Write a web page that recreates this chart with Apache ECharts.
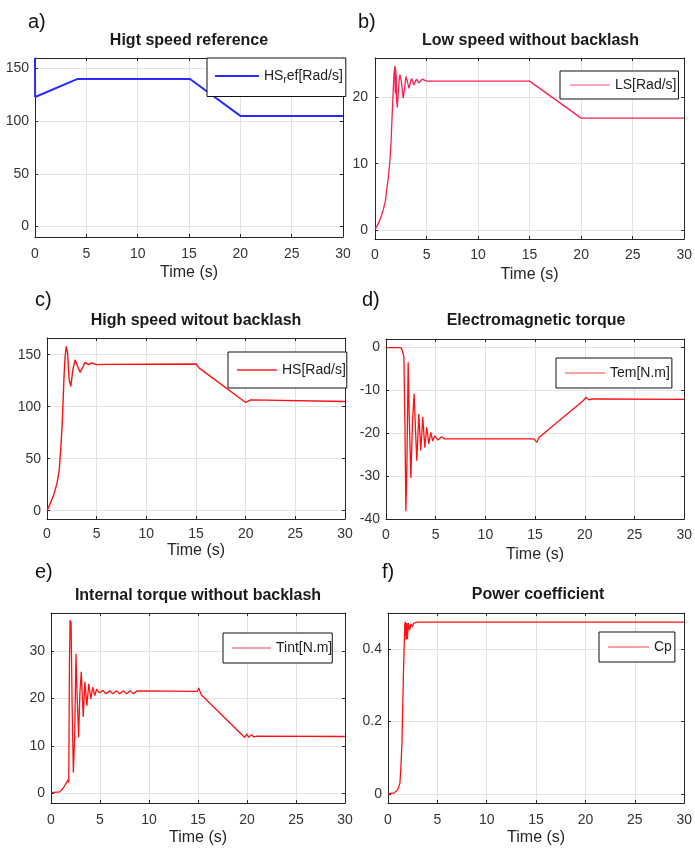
<!DOCTYPE html>
<html><head><meta charset="utf-8">
<script src="https://cdn.jsdelivr.net/npm/echarts@6/dist/echarts.min.js"></script>
<style>html,body{margin:0;padding:0;background:#fff}#c{width:695px;height:850px}</style>
</head><body><div id="c"></div>
<script>
// ---- tick labels ----
const xTicks = [0, 5, 10, 15, 20, 25, 30];
const yTicksA = [0, 50, 100, 150];
const yTicksB = [0, 10, 20];
const yTicksC = [0, 50, 100, 150];
const yTicksD = [-40, -30, -20, -10, 0];
const yTicksE = [0, 10, 20, 30];
const yTicksF = [0, 0.2, 0.4];

// ---- a) High speed reference ----
const timeA = [0, 0.01, 4.1, 15.1, 20.0, 30];
const hsRef = [160, 123, 140, 140, 105, 105];

// ---- b) Low speed without backlash ----
const timeB = [0, 0.25, 0.48, 0.8, 1.0, 1.13, 1.29, 1.45, 1.55, 1.65, 1.74, 1.84, 1.9, 1.94, 1.96, 1.98, 2.0, 2.02, 2.04, 2.06, 2.09, 2.16, 2.25, 2.35, 2.42, 2.55, 2.74, 2.88, 3.0, 3.15, 3.29, 3.42, 3.55, 3.66, 3.77, 3.9, 4.03, 4.15, 4.26, 4.42, 4.58, 4.75, 5.0, 15.0, 20.0, 30];
const lowSpeed = [0, 0.7, 1.5, 3.0, 4.3, 6.0, 7.8, 10.5, 13.0, 16.8, 20.1, 23.6, 24.3, 24.8, 20.8, 24.6, 20.6, 24.2, 20.5, 23.5, 19.8, 18.5, 20.5, 22.8, 23.5, 22.5, 19.9, 21.5, 23.2, 22.4, 21.4, 22.2, 22.9, 22.5, 21.9, 22.4, 22.8, 22.5, 22.2, 22.5, 22.8, 22.5, 22.5, 22.5, 16.9, 16.9];

// ---- c) High speed without backlash ----
const timeC = [0, 0.33, 0.67, 1.0, 1.23, 1.37, 1.5, 1.6, 1.7, 1.8, 1.93, 2.07, 2.23, 2.4, 2.6, 2.83, 3.07, 3.33, 3.6, 3.83, 4.17, 4.5, 5.0, 6.0, 6.1, 6.2, 15.0, 15.33, 20.0, 20.2, 20.5, 20.6, 30];
const highSpeed = [0, 7, 15, 26, 39, 58, 78, 100, 126, 145, 158, 152, 126, 119.5, 135.5, 145, 139, 133, 138, 142.6, 140.4, 142, 140.4, 140.6, 142, 141, 141, 137, 104, 103, 106.5, 105, 105];

// ---- d) Electromagnetic torque ----
const timeD = [0, 1.5, 1.63, 1.8, 1.83, 1.9, 2.0, 2.1, 2.23, 2.33, 2.5, 2.67, 2.83, 2.97, 3.1, 3.3, 3.5, 3.7, 3.9, 4.1, 4.3, 4.5, 4.7, 4.9, 5.23, 5.57, 5.9, 6.57, 14.9, 15.17, 15.4, 15.9, 19.83, 20.13, 20.4, 20.73, 21.23, 30];
const emTorque = [0, 0, -0.6, -2.2, -2.2, -17, -38.2, -28, -3.4, -15.5, -30.4, -17, -10.8, -19.4, -26.4, -15.5, -24, -16.2, -23.3, -18.6, -22.5, -19.8, -21.8, -20.6, -21.6, -20.8, -21.3, -21.3, -21.3, -22.1, -21, -20, -12.4, -11.6, -12.2, -12, -12, -12.1];

// ---- e) Internal torque without backlash ----
const timeE = [0, 0.9, 1.24, 1.58, 1.75, 1.81, 1.88, 1.95, 2.05, 2.15, 2.28, 2.42, 2.55, 2.68, 2.82, 2.95, 3.09, 3.29, 3.46, 3.66, 3.86, 4.06, 4.26, 4.46, 4.66, 4.93, 5.3, 5.6, 6.0, 6.3, 6.7, 7.0, 7.4, 7.7, 8.1, 8.4, 8.8, 9.0, 14.93, 15.07, 15.33, 19.77, 19.97, 20.2, 20.45, 20.7, 21.0, 30];
const intTorque = [0.2, 0.35, 1.1, 2.3, 2.9, 2.3, 27, 36.5, 36, 19.2, 4.4, 12.2, 29.4, 19.9, 11.8, 21.3, 25.6, 16.1, 23.5, 18.5, 23.1, 19.9, 22.4, 20.6, 22, 21.2, 21.7, 21.0, 21.6, 21.0, 21.6, 21.0, 21.6, 21.0, 21.6, 21.0, 21.6, 21.5, 21.5, 22.2, 20.8, 11.8, 12.5, 11.8, 12.4, 11.9, 12.1, 12.0];

// ---- f) Power coefficient ----
const timeF = [0, 0.65, 0.98, 1.21, 1.31, 1.41, 1.5, 1.57, 1.63, 1.7, 1.76, 1.83, 1.9, 1.96, 2.06, 2.19, 2.32, 2.45, 2.61, 2.78, 3.0, 30];
const powerCoef = [0, 0.003, 0.012, 0.03, 0.076, 0.14, 0.25, 0.34, 0.4, 0.467, 0.476, 0.426, 0.472, 0.428, 0.472, 0.453, 0.47, 0.461, 0.472, 0.467, 0.475, 0.475];

const FONT = '"Liberation Sans", Arial, Helvetica, sans-serif';
const AX = '#262626';
const GRID = '#e2e2e2';

const panels = [
  { label: 'a)', lab: [28, 12], title: 'Higt speed reference', titleTop: 33,
    grid: [35, 58, 308, 179], ymin: -10, ymax: 160, yTicks: yTicksA,
    t: timeA, v: hsRef, name: 'HSref[Rad/s]', color: '#2b2bff', width: 2,
    legend: { left: 207, top: 58, padding: [11, 3, 11, 8], itemWidth: 44, lc: '#2b2bff', lw: 2 },
    fmt: 'HS{sub|r}ef[Rad/s]', ylm: 6, xlm: 10, ng: 28 },
  { label: 'b)', lab: [358, 12], title: 'Low speed without backlash', titleTop: 33,
    grid: [375, 58, 311, 181], ymin: -1.4, ymax: 26, yTicks: yTicksB,
    t: timeB, v: lowSpeed, name: 'LS[Rad/s]', color: '#ff1f4f', width: 1.3,
    legend: { left: 560, top: 71, padding: [7, 2, 7, 10], itemWidth: 40, lc: '#ff8aa2', lw: 1.3 },
    ylm: 7, xlm: 9, ng: 28 },
  { label: 'c)', lab: [35, 290], title: 'High speed witout backlash', titleTop: 313,
    grid: [47, 338, 298, 181], ymin: -8, ymax: 166, yTicks: yTicksC,
    t: timeC, v: highSpeed, name: 'HS[Rad/s]', color: '#ff1010', width: 1.4,
    legend: { left: 228, top: 352, padding: [11, 1, 11, 9], itemWidth: 40, lc: '#ff2020', lw: 1.4 },
    ylm: 6, xlm: 8, ng: 24 },
  { label: 'd)', lab: [362, 290], title: 'Electromagnetic torque', titleTop: 313,
    grid: [386, 339, 300, 180], ymin: -40, ymax: 2, yTicks: yTicksD,
    t: timeD, v: emTorque, name: 'Tem[N.m]', color: '#ff1010', width: 1.3,
    legend: { left: 556, top: 358, padding: [8, 2, 8, 9], itemWidth: 40, lc: '#ff8080', lw: 1.3 },
    ylm: 6, xlm: 9, ng: 28 },
  { label: 'e)', lab: [35, 562], title: 'Internal torque without backlash', titleTop: 588,
    grid: [51, 613, 294, 190], ymin: -2, ymax: 38, yTicks: yTicksE,
    t: timeE, v: intTorque, name: 'Tint[N.m]', color: '#ff1010', width: 1.3,
    legend: { left: 223, top: 633, padding: [8, 0, 8, 9], itemWidth: 39, lc: '#ff8080', lw: 1.3 },
    ylm: 6, xlm: 10, ng: 27 },
  { label: 'f)', lab: [382, 562], title: 'Power coefficient', titleTop: 587,
    grid: [388, 613, 300, 190], ymin: -0.025, ymax: 0.5, yTicks: yTicksF,
    t: timeF, v: powerCoef, name: 'Cp', color: '#ff1010', width: 1.3,
    legend: { left: 599, top: 632, padding: [8, 3, 8, 9], itemWidth: 41, lc: '#ff8080', lw: 1.3 },
    ylm: 6, xlm: 10, ng: 27 }
];

const option = { animation: false, backgroundColor: '#fff', title: [], grid: [], xAxis: [], yAxis: [], series: [], legend: [] };

panels.forEach((p, i) => {
  const [gl, gt, gw, gh] = p.grid;
  option.grid.push({ left: gl, top: gt, width: gw, height: gh, containLabel: false });
  option.title.push({ text: p.title, left: gl + gw / 2, top: p.titleTop, textAlign: 'center', padding: 0,
    textStyle: { fontFamily: FONT, fontSize: 16, fontWeight: 'bold', color: '#1a1a1a' } });
  option.title.push({ text: p.label, left: p.lab[0], top: p.lab[1], padding: 0,
    textStyle: { fontFamily: FONT, fontSize: 20, fontWeight: 'normal', color: '#111' } });

  const lineStyle = { color: AX, width: 1 };
  option.xAxis.push({ type: 'value', gridIndex: i, position: 'bottom', min: 0, max: 30, interval: 5,
    name: 'Time (s)', nameLocation: 'middle', nameGap: p.ng,
    nameTextStyle: { fontFamily: FONT, fontSize: 16, color: '#262626' },
    axisLine: { show: true, onZero: false, lineStyle },
    axisTick: { show: true, inside: true, length: 3, lineStyle },
    axisLabel: { show: true, margin: p.xlm, fontFamily: FONT, fontSize: 14, color: '#333',
      customValues: xTicks },
    splitLine: { show: true, lineStyle: { color: GRID, width: 1 } } });
  option.xAxis.push({ type: 'value', gridIndex: i, position: 'top', min: 0, max: 30, interval: 5,
    axisLine: { show: true, onZero: false, lineStyle },
    axisTick: { show: true, inside: true, length: 3, lineStyle },
    axisLabel: { show: false }, splitLine: { show: false } });
  option.yAxis.push({ type: 'value', gridIndex: i, position: 'left', min: p.ymin, max: p.ymax,
    axisLine: { show: true, onZero: false, lineStyle },
    axisTick: { show: true, inside: true, length: 3, lineStyle, customValues: p.yTicks },
    axisLabel: { show: true, margin: p.ylm, fontFamily: FONT, fontSize: 14, color: '#333', customValues: p.yTicks },
    splitLine: { show: true, lineStyle: { color: GRID, width: 1 } } });
  option.yAxis.push({ type: 'value', gridIndex: i, position: 'right', min: p.ymin, max: p.ymax,
    axisLine: { show: true, onZero: false, lineStyle },
    axisTick: { show: true, inside: true, length: 3, lineStyle, customValues: p.yTicks },
    axisLabel: { show: false, customValues: p.yTicks }, splitLine: { show: false } });

  option.series.push({ type: 'line', name: p.name, xAxisIndex: 2 * i, yAxisIndex: 2 * i,
    data: p.t.map((t, k) => [t, p.v[k]]), symbol: 'none', showSymbol: false, clip: true, z: 3,
    lineStyle: { color: p.color, width: p.width }, itemStyle: { color: p.color } });

  const lg = p.legend;
  const leg = { data: [{ name: p.name, icon: 'rect' }], left: lg.left, top: lg.top, orient: 'horizontal', padding: lg.padding,
    itemWidth: lg.itemWidth, itemHeight: lg.lw, selectedMode: false, z: 10,
    borderColor: '#111', borderWidth: 1, borderRadius: 0, backgroundColor: '#fff',
    itemStyle: { color: lg.lc, borderWidth: 0 },
    lineStyle: { color: lg.lc, width: 0, opacity: 0 },
    textStyle: { fontFamily: FONT, fontSize: 14, color: '#222', height: 14, lineHeight: 14 } };
  if (p.fmt) {
    leg.formatter = () => p.fmt;
    leg.textStyle.rich = { sub: { fontFamily: FONT, fontSize: 10, color: '#222', padding: [9, 0, 0, 0] } };
  }
  option.legend.push(leg);
});

const chart = echarts.init(document.getElementById('c'), null, { renderer: 'canvas' });
chart.setOption(option);
</script></body></html>
